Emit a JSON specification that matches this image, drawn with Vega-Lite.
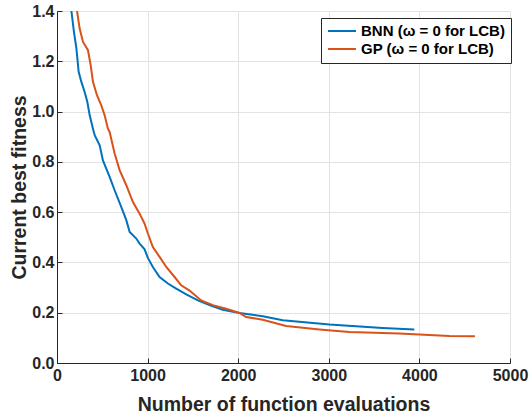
{
  "$schema": "https://vega.github.io/schema/vega-lite/v6.json",
  "width": 453,
  "height": 352,
  "autosize": {"type": "none"},
  "padding": {"left": 57, "top": 11, "right": 19, "bottom": 55},
  "background": "white",
  "config": {
    "view": {"stroke": null},
    "font": "Liberation Sans"
  },
  "data": {
    "values": [
      {"series": "BNN (ω = 0 for LCB)", "evals": 159, "fitness": 1.4},
      {"series": "BNN (ω = 0 for LCB)", "evals": 187, "fitness": 1.317},
      {"series": "BNN (ω = 0 for LCB)", "evals": 214, "fitness": 1.251},
      {"series": "BNN (ω = 0 for LCB)", "evals": 239, "fitness": 1.158},
      {"series": "BNN (ω = 0 for LCB)", "evals": 269, "fitness": 1.118},
      {"series": "BNN (ω = 0 for LCB)", "evals": 305, "fitness": 1.078},
      {"series": "BNN (ω = 0 for LCB)", "evals": 335, "fitness": 1.038},
      {"series": "BNN (ω = 0 for LCB)", "evals": 361, "fitness": 0.985},
      {"series": "BNN (ω = 0 for LCB)", "evals": 397, "fitness": 0.932},
      {"series": "BNN (ω = 0 for LCB)", "evals": 416, "fitness": 0.906},
      {"series": "BNN (ω = 0 for LCB)", "evals": 471, "fitness": 0.866},
      {"series": "BNN (ω = 0 for LCB)", "evals": 507, "fitness": 0.806},
      {"series": "BNN (ω = 0 for LCB)", "evals": 581, "fitness": 0.74},
      {"series": "BNN (ω = 0 for LCB)", "evals": 636, "fitness": 0.687},
      {"series": "BNN (ω = 0 for LCB)", "evals": 710, "fitness": 0.62},
      {"series": "BNN (ω = 0 for LCB)", "evals": 765, "fitness": 0.568},
      {"series": "BNN (ω = 0 for LCB)", "evals": 802, "fitness": 0.521},
      {"series": "BNN (ω = 0 for LCB)", "evals": 875, "fitness": 0.495},
      {"series": "BNN (ω = 0 for LCB)", "evals": 912, "fitness": 0.475},
      {"series": "BNN (ω = 0 for LCB)", "evals": 967, "fitness": 0.452},
      {"series": "BNN (ω = 0 for LCB)", "evals": 1003, "fitness": 0.418},
      {"series": "BNN (ω = 0 for LCB)", "evals": 1058, "fitness": 0.382},
      {"series": "BNN (ω = 0 for LCB)", "evals": 1132, "fitness": 0.342},
      {"series": "BNN (ω = 0 for LCB)", "evals": 1224, "fitness": 0.316},
      {"series": "BNN (ω = 0 for LCB)", "evals": 1316, "fitness": 0.296},
      {"series": "BNN (ω = 0 for LCB)", "evals": 1427, "fitness": 0.273},
      {"series": "BNN (ω = 0 for LCB)", "evals": 1555, "fitness": 0.249},
      {"series": "BNN (ω = 0 for LCB)", "evals": 1683, "fitness": 0.23},
      {"series": "BNN (ω = 0 for LCB)", "evals": 1830, "fitness": 0.212},
      {"series": "BNN (ω = 0 for LCB)", "evals": 2014, "fitness": 0.199},
      {"series": "BNN (ω = 0 for LCB)", "evals": 2271, "fitness": 0.186},
      {"series": "BNN (ω = 0 for LCB)", "evals": 2492, "fitness": 0.17},
      {"series": "BNN (ω = 0 for LCB)", "evals": 3007, "fitness": 0.153},
      {"series": "BNN (ω = 0 for LCB)", "evals": 3594, "fitness": 0.139},
      {"series": "BNN (ω = 0 for LCB)", "evals": 3944, "fitness": 0.133},
      {"series": "GP (ω = 0 for LCB)", "evals": 221, "fitness": 1.4},
      {"series": "GP (ω = 0 for LCB)", "evals": 250, "fitness": 1.33},
      {"series": "GP (ω = 0 for LCB)", "evals": 287, "fitness": 1.277},
      {"series": "GP (ω = 0 for LCB)", "evals": 342, "fitness": 1.244},
      {"series": "GP (ω = 0 for LCB)", "evals": 372, "fitness": 1.184},
      {"series": "GP (ω = 0 for LCB)", "evals": 397, "fitness": 1.118},
      {"series": "GP (ω = 0 for LCB)", "evals": 441, "fitness": 1.065},
      {"series": "GP (ω = 0 for LCB)", "evals": 489, "fitness": 1.025},
      {"series": "GP (ω = 0 for LCB)", "evals": 526, "fitness": 0.985},
      {"series": "GP (ω = 0 for LCB)", "evals": 562, "fitness": 0.932},
      {"series": "GP (ω = 0 for LCB)", "evals": 581, "fitness": 0.919},
      {"series": "GP (ω = 0 for LCB)", "evals": 636, "fitness": 0.833},
      {"series": "GP (ω = 0 for LCB)", "evals": 691, "fitness": 0.767},
      {"series": "GP (ω = 0 for LCB)", "evals": 765, "fitness": 0.707},
      {"series": "GP (ω = 0 for LCB)", "evals": 838, "fitness": 0.64},
      {"series": "GP (ω = 0 for LCB)", "evals": 912, "fitness": 0.594},
      {"series": "GP (ω = 0 for LCB)", "evals": 967, "fitness": 0.554},
      {"series": "GP (ω = 0 for LCB)", "evals": 1003, "fitness": 0.515},
      {"series": "GP (ω = 0 for LCB)", "evals": 1058, "fitness": 0.461},
      {"series": "GP (ω = 0 for LCB)", "evals": 1132, "fitness": 0.422},
      {"series": "GP (ω = 0 for LCB)", "evals": 1206, "fitness": 0.382},
      {"series": "GP (ω = 0 for LCB)", "evals": 1298, "fitness": 0.342},
      {"series": "GP (ω = 0 for LCB)", "evals": 1371, "fitness": 0.309},
      {"series": "GP (ω = 0 for LCB)", "evals": 1463, "fitness": 0.288},
      {"series": "GP (ω = 0 for LCB)", "evals": 1592, "fitness": 0.249},
      {"series": "GP (ω = 0 for LCB)", "evals": 1720, "fitness": 0.23},
      {"series": "GP (ω = 0 for LCB)", "evals": 1867, "fitness": 0.216},
      {"series": "GP (ω = 0 for LCB)", "evals": 2014, "fitness": 0.199},
      {"series": "GP (ω = 0 for LCB)", "evals": 2088, "fitness": 0.183},
      {"series": "GP (ω = 0 for LCB)", "evals": 2271, "fitness": 0.172},
      {"series": "GP (ω = 0 for LCB)", "evals": 2529, "fitness": 0.147},
      {"series": "GP (ω = 0 for LCB)", "evals": 2896, "fitness": 0.133},
      {"series": "GP (ω = 0 for LCB)", "evals": 3227, "fitness": 0.123},
      {"series": "GP (ω = 0 for LCB)", "evals": 3778, "fitness": 0.117},
      {"series": "GP (ω = 0 for LCB)", "evals": 4329, "fitness": 0.107},
      {"series": "GP (ω = 0 for LCB)", "evals": 4613, "fitness": 0.106}
    ]
  },
  "mark": {"type": "line", "strokeWidth": 2, "clip": true},
  "encoding": {
    "x": {
      "field": "evals",
      "type": "quantitative",
      "scale": {"domain": [0, 5000], "nice": false},
      "axis": {
        "title": "Number of function evaluations",
        "values": [0, 1000, 2000, 3000, 4000, 5000],
        "format": "d",
        "grid": true,
        "gridColor": "#e3e3e3",
        "gridWidth": 1,
        "domainColor": "#262626",
        "tickColor": "#262626",
        "tickSize": -5,
        "labelFontWeight": "bold",
        "labelFontSize": 16,
        "labelColor": "#262626",
        "labelPadding": 9,
        "labelFlush": false,
        "titleFontWeight": "bold",
        "titleFontSize": 19.5,
        "titleColor": "#262626",
        "titlePadding": 12
      }
    },
    "y": {
      "field": "fitness",
      "type": "quantitative",
      "scale": {"domain": [0, 1.4], "nice": false},
      "axis": {
        "title": "Current best fitness",
        "values": [0, 0.2, 0.4, 0.6, 0.8, 1, 1.2, 1.4],
        "grid": true,
        "gridColor": "#e3e3e3",
        "gridWidth": 1,
        "domainColor": "#262626",
        "tickColor": "#262626",
        "tickSize": -5,
        "labelFontWeight": "bold",
        "labelFontSize": 16,
        "labelColor": "#262626",
        "labelPadding": 8,
        "labelFlush": false,
        "titleFontWeight": "bold",
        "titleFontSize": 19.5,
        "titleColor": "#262626",
        "titlePadding": 2
      }
    },
    "color": {
      "field": "series",
      "type": "nominal",
      "scale": {
        "domain": ["BNN (ω = 0 for LCB)", "GP (ω = 0 for LCB)"],
        "range": ["#0072BD", "#D95319"]
      },
      "legend": {
        "title": null,
        "orient": "none",
        "legendX": 264,
        "legendY": 7,
        "fillColor": "white",
        "strokeColor": "#262626",
        "padding": 6,
        "symbolType": "stroke",
        "symbolSize": 784,
        "symbolStrokeWidth": 2,
        "clipHeight": 14,
        "labelFontWeight": "bold",
        "labelFontSize": 15,
        "labelColor": "#000000",
        "labelOffset": 4,
        "rowPadding": 3,
        "labelLimit": 300
      }
    }
  }
}
